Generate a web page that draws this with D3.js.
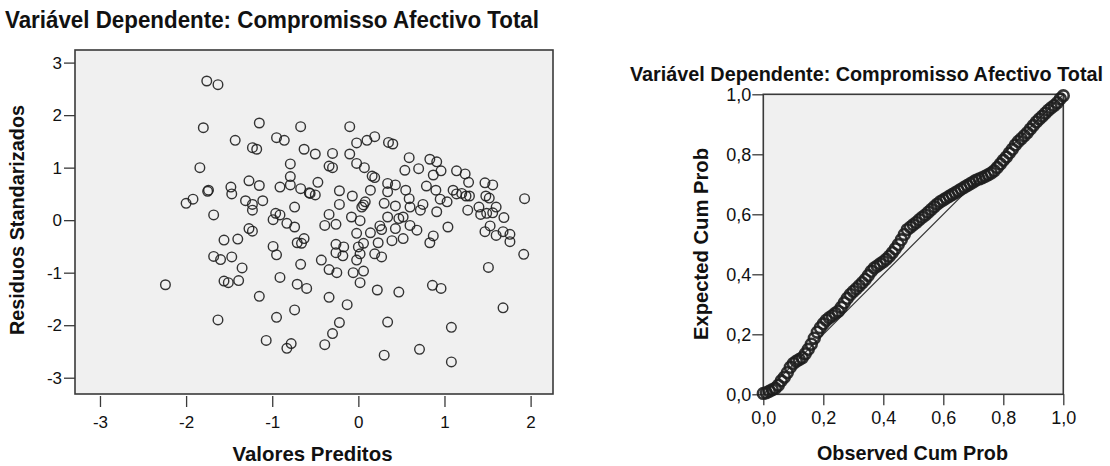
<!DOCTYPE html>
<html>
<head>
<meta charset="utf-8">
<script src="https://cdnjs.cloudflare.com/ajax/libs/d3/7.8.5/d3.min.js"></script>
<style>
  html, body { margin: 0; padding: 0; background: #ffffff; }
  svg { display: block; }
  .ttl { font-family: "Liberation Sans Narrow", "Arial Narrow", "Liberation Sans", Arial, sans-serif; font-weight: bold; fill: #111; }
  .tick text { font-family: "Liberation Sans", Arial, sans-serif; fill: #111; }
</style>
</head>
<body>
<svg id="chart" width="1110" height="466"></svg>
<script>
// ---------- Data ----------
const chartTitle = "Variável Dependente: Compromisso Afectivo Total";
const scatterXLabel = "Valores Preditos";
const scatterYLabel = "Residuos Standarizados";
const ppXLabel = "Observed Cum Prob";
const ppYLabel = "Expected Cum Prob";

const scatterXTicks = [-3, -2, -1, 0, 1, 2];
const scatterYTicks = [-3, -2, -1, 0, 1, 2, 3];
const ppTicks = [0, 0.2, 0.4, 0.6, 0.8, 1.0];
const ppTickLabels = ["0,0", "0,2", "0,4", "0,6", "0,8", "1,0"];

// standardized predicted values (x) and standardized residuals (y)
const predicted = [
  -1.76,-1.63,-1.80,-1.15,-0.67,-1.43,-0.95,-0.86,-1.23,-1.18,-0.63,-0.79,-1.84,-0.79,-1.27,-1.15,-0.91,-0.79,-0.67,-0.57,
  -1.48,-1.47,-1.75,-1.74,-1.92,-2.00,-1.31,-1.23,-1.23,-1.11,-0.74,-1.68,-0.96,-0.91,-0.99,-0.83,-0.74,-1.27,-1.23,
  -1.56,-1.40,-0.63,-0.71,-0.66,-0.99,-0.95,-1.68,-1.60,-1.47,-0.67,-1.35,-0.91,-2.24,-1.56,-1.51,-1.39,-0.71,-0.60,-1.15,
  -0.74,-0.95,-1.63,-1.07,-0.78,-0.83,
  -0.10,-0.02,0.10,0.19,0.35,0.40,-0.50,-0.30,-0.10,-0.02,0.07,-0.34,-0.30,0.16,0.19,0.59,0.54,0.70,0.83,0.91,
  0.87,0.96,1.14,1.24,1.28,0.79,0.90,0.95,1.03,1.10,1.14,1.20,1.25,1.29,1.47,1.56,1.48,1.52,1.60,1.93,
  1.40,1.42,1.49,1.56,1.69,1.27,0.91,-0.47,-0.56,-0.50,-0.22,-0.07,0.14,-0.22,0.08,0.06,0.30,0.34,0.43,0.34,
  0.55,0.59,0.43,0.60,0.75,0.72,-0.34,-0.08,0.02,0.34,0.52,-0.39,-0.26,0.25,0.60,1.04,0.04,0.47,0.43,
  -0.02,0.14,0.27,0.68,0.39,0.52,0.87,0.83,-0.26,-0.17,-0.26,-0.18,0.00,0.06,0.02,-0.02,0.23,0.19,0.27,-0.43,
  -0.34,-0.25,-0.06,0.06,0.02,0.22,0.47,0.86,0.96,-0.34,-0.13,-0.22,-0.30,-0.39,0.34,1.08,0.30,0.71,1.08,1.51,
  1.68,1.92,1.47,1.60,1.68,1.76,1.76,1.53
];
const residuals = [
  2.65,2.58,1.76,1.85,1.78,1.52,1.57,1.52,1.38,1.35,1.35,1.07,1.00,0.83,0.75,0.66,0.63,0.67,0.60,0.52,
  0.63,0.50,0.55,0.57,0.40,0.32,0.37,0.30,0.19,0.37,0.25,0.10,0.13,0.10,0.01,-0.06,-0.13,-0.16,-0.21,
  -0.38,-0.36,-0.35,-0.43,-0.44,-0.50,-0.66,-0.69,-0.75,-0.70,-0.84,-0.91,-1.09,-1.23,-1.16,-1.19,-1.15,-1.22,-1.30,-1.45,
  -1.71,-1.85,-1.90,-2.29,-2.35,-2.44,
  1.78,1.47,1.52,1.59,1.48,1.45,1.26,1.27,1.26,1.08,1.00,1.03,1.00,0.84,0.81,1.19,0.95,0.98,1.16,1.11,
  0.86,0.94,0.94,0.88,0.72,0.65,0.57,0.40,0.35,0.57,0.50,0.51,0.46,0.46,0.71,0.67,0.46,0.42,0.25,0.41,
  0.25,0.11,0.13,0.14,0.05,0.19,0.16,0.72,0.51,0.48,0.56,0.46,0.57,0.30,0.35,0.29,0.32,0.70,0.67,0.54,
  0.57,0.41,0.27,0.25,0.30,0.19,0.11,0.06,-0.01,0.06,0.06,-0.10,-0.08,-0.11,-0.10,-0.13,0.25,0.03,-0.16,
  -0.25,-0.24,-0.18,-0.19,-0.39,-0.35,-0.30,-0.43,-0.46,-0.51,-0.62,-0.68,-0.51,-0.44,-0.64,-0.76,-0.43,-0.64,-0.70,-0.76,
  -0.94,-1.00,-1.00,-0.97,-1.19,-1.33,-1.37,-1.24,-1.30,-1.47,-1.61,-1.95,-2.16,-2.37,-1.94,-2.04,-2.57,-2.46,-2.70,-0.90,
  -1.67,-0.65,-0.22,-0.29,-0.22,-0.27,-0.41,-0.11
];

// Normal P-P plot: observed vs expected cumulative probability
const ppObserved = [
  0.00,0.01,0.02,0.03,0.04,0.05,0.06,0.07,0.08,0.09,0.10,0.11,0.12,0.13,0.14,0.15,0.16,0.17,0.18,0.19,
  0.20,0.21,0.22,0.23,0.24,0.25,0.26,0.27,0.28,0.29,0.30,0.31,0.32,0.33,0.34,0.35,0.36,0.37,0.38,0.39,
  0.40,0.41,0.42,0.43,0.44,0.45,0.46,0.47,0.48,0.49,0.50,0.51,0.52,0.53,0.54,0.55,0.56,0.57,0.58,0.59,
  0.60,0.61,0.62,0.63,0.64,0.65,0.66,0.67,0.68,0.69,0.70,0.71,0.72,0.73,0.74,0.75,0.76,0.77,0.78,0.79,
  0.80,0.81,0.82,0.83,0.84,0.85,0.86,0.87,0.88,0.89,0.90,0.91,0.92,0.93,0.94,0.95,0.96,0.97,0.98,0.99,1.00
];
const ppExpected = [
  0.003,0.005,0.010,0.015,0.020,0.030,0.045,0.057,0.072,0.090,0.103,0.110,0.116,0.122,0.135,0.150,0.167,0.187,0.207,0.222,
  0.235,0.247,0.255,0.262,0.270,0.277,0.290,0.305,0.320,0.333,0.343,0.352,0.362,0.372,0.383,0.396,0.410,0.421,0.428,0.435,
  0.442,0.450,0.460,0.472,0.485,0.499,0.515,0.533,0.549,0.557,0.565,0.573,0.582,0.590,0.598,0.607,0.616,0.625,0.634,0.642,
  0.648,0.654,0.660,0.666,0.672,0.678,0.684,0.690,0.696,0.702,0.708,0.714,0.718,0.722,0.727,0.732,0.738,0.745,0.756,0.768,
  0.780,0.791,0.804,0.817,0.831,0.843,0.852,0.862,0.872,0.884,0.896,0.908,0.918,0.927,0.937,0.947,0.955,0.963,0.972,0.985,0.995
];
const refLine = [0, 1];

// ---------- Drawing ----------
const svg = d3.select("#chart");
const BG = "#f0f0f0", FRAME = "#3a3a3a", MARK = "#1e1e1e";
const plainNum = d => String(d);

function frame(x0, y0, x1, y1) {
  svg.append("rect").attr("x", x0).attr("y", y0).attr("width", x1 - x0).attr("height", y1 - y0)
    .attr("fill", BG).attr("stroke", FRAME).attr("stroke-width", 1.6);
}
function styleAxis(g, fontSize) {
  g.select(".domain").remove();
  g.selectAll(".tick line").attr("stroke", FRAME).attr("stroke-width", 1.3);
  g.selectAll(".tick text").style("font-size", fontSize + "px");
}
function label(text, x, y, size, len, rotate) {
  const t = svg.append("text").attr("class", "ttl").attr("text-anchor", "middle")
    .style("font-size", size + "px").attr("textLength", len).attr("lengthAdjust", "spacingAndGlyphs").text(text);
  if (rotate) t.attr("transform", `translate(${x},${y}) rotate(-90)`);
  else t.attr("x", x).attr("y", y);
}

// ----- Left: scatter -----
const L = { x0: 75, x1: 553, y0: 50, y1: 394 };
const xL = d3.scaleLinear().domain([-3.29, 2.26]).range([L.x0, L.x1]);
const yL = d3.scaleLinear().domain([-3.31, 3.24]).range([L.y1, L.y0]);
frame(L.x0, L.y0, L.x1, L.y1);

const gxL = svg.append("g").attr("transform", `translate(0,${L.y1 + 2})`)
  .call(d3.axisBottom(xL).tickValues(scatterXTicks).tickSize(11).tickPadding(9).tickFormat(plainNum));
styleAxis(gxL, 17);
const gyL = svg.append("g").attr("transform", `translate(${L.x0},0)`)
  .call(d3.axisLeft(yL).tickValues(scatterYTicks).tickSize(11).tickPadding(2).tickFormat(plainNum));
styleAxis(gyL, 17);

svg.append("g").selectAll("circle").data(predicted.map((p, i) => [p, residuals[i]])).join("circle")
  .attr("cx", d => xL(d[0])).attr("cy", d => yL(d[1])).attr("r", 4.8)
  .attr("fill", "none").attr("stroke", MARK).attr("stroke-width", 1.4).attr("stroke-opacity", 0.9);

label(chartTitle, 272, 28, 23, 534);
label(scatterXLabel, 312.5, 461, 21, 160);
label(scatterYLabel, 24, 220, 21, 230, true);

// ----- Right: P-P plot -----
const R = { x0: 763.3, x1: 1063.3, y0: 94.3, y1: 394.3 };
const xR = d3.scaleLinear().domain([0, 1]).range([R.x0, R.x1]);
const yR = d3.scaleLinear().domain([0, 1]).range([R.y1, R.y0]);
frame(R.x0, R.y0, R.x1, R.y1);

const gxR = svg.append("g").attr("transform", `translate(0,${R.y1})`)
  .call(d3.axisBottom(xR).tickValues(ppTicks).tickSize(11).tickPadding(6).tickFormat((d, i) => ppTickLabels[i]));
styleAxis(gxR, 18);
const gyR = svg.append("g").attr("transform", `translate(${R.x0},0)`)
  .call(d3.axisLeft(yR).tickValues(ppTicks).tickSize(11).tickPadding(1).tickFormat((d, i) => ppTickLabels[i]));
styleAxis(gyR, 18);

svg.append("line").attr("x1", xR(refLine[0])).attr("y1", yR(refLine[0]))
  .attr("x2", xR(refLine[1])).attr("y2", yR(refLine[1])).attr("stroke", "#333").attr("stroke-width", 1.2);

svg.append("g").selectAll("circle").data(ppObserved.map((o, i) => [o, ppExpected[i]])).join("circle")
  .attr("cx", d => xR(d[0])).attr("cy", d => yR(d[1])).attr("r", 5.4)
  .attr("fill", "none").attr("stroke", MARK).attr("stroke-width", 2.6).attr("stroke-opacity", 0.9);

label(chartTitle, 866.5, 80.5, 20, 473);
label(ppXLabel, 912.5, 460, 21, 191);
label(ppYLabel, 708, 244, 21, 192, true);
</script>
</body>
</html>
